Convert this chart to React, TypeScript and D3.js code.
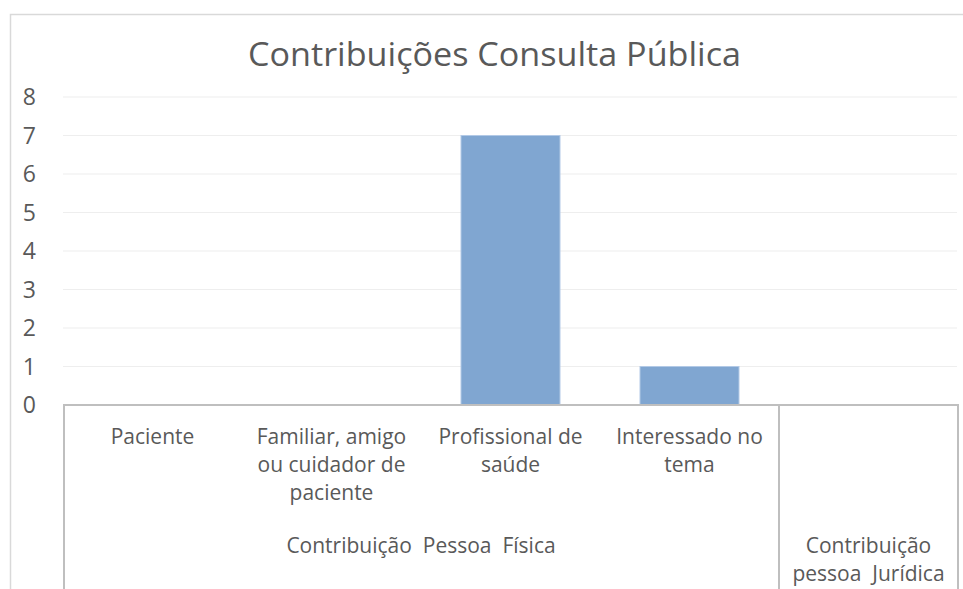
import React from "react";
import * as d3 from "d3";

const categories = [
  ["Paciente"],
  ["Familiar, amigo", "ou cuidador de", "paciente"],
  ["Profissional de", "saúde"],
  ["Interessado no", "tema"],
  [],
];
const categoryKeys = ["Paciente", "Familiar", "Profissional", "Interessado", "Juridica"];
const values = [0, 0, 7, 1, 0];
const groups = [
  { label: ["Contribuição  Pessoa  Física"], from: 0, to: 3 },
  { label: ["Contribuição", "pessoa  Jurídica"], from: 4, to: 4 },
];
const yTicks = [0, 1, 2, 3, 4, 5, 6, 7, 8];
const title = "Contribuições Consulta Pública";

const W = 963;
const H = 589;
const FONT = "'Open Sans', 'Noto Sans', sans-serif";
const TEXT = "#595959";

export default function App() {
  const x = d3.scaleBand<string>().domain(categoryKeys).range([63, 958]).padding(0);
  const y = d3.scaleLinear().domain([0, 8]).range([405, 97]);
  const bw = x.bandwidth() * 0.553;

  const grpX = (g: { from: number; to: number }) => {
    const a = x(categoryKeys[g.from])!;
    const b = x(categoryKeys[g.to])! + x.bandwidth();
    return [a, b];
  };

  return (
    <svg
      width={W}
      height={H}
      style={{ position: "absolute", left: 0, top: 0, background: "#fff" }}
      fontFamily={FONT}
    >
      {/* outer chart border */}
      <path d={`M10.5,${H} V14.5 H${W}`} fill="none" stroke="#d9d9d9" strokeWidth={1.5} />

      <text
        x={494.5}
        y={66}
        textAnchor="middle"
        fontSize={32}
        fill={TEXT}
        textLength={493}
        lengthAdjust="spacingAndGlyphs"
      >
        {title}
      </text>

      {/* gridlines */}
      {yTicks.filter((t) => t > 0).map((t) => (
        <line key={t} x1={63} x2={957} y1={y(t)} y2={y(t)} stroke="#eeeeee" strokeWidth={1.2} />
      ))}

      {/* y tick labels */}
      {yTicks.map((t) => (
        <text key={t} x={36} y={y(t) + 8} textAnchor="end" fontSize={23} fill={TEXT}>
          {t}
        </text>
      ))}

      {/* bars */}
      {values.map((v, i) =>
        v > 0 ? (
          <rect
            key={i}
            x={x(categoryKeys[i])! + (x.bandwidth() - bw) / 2}
            y={y(v)}
            width={bw}
            height={y(0) - y(v)}
            fill="#80a6d1"
            stroke="#b2c9e6"
            strokeWidth={1}
          />
        ) : null
      )}

      {/* category axis box */}
      <line x1={63} x2={959} y1={405} y2={405} stroke="#bfbfbf" strokeWidth={2} />
      <line x1={64} x2={64} y1={405} y2={H} stroke="#bfbfbf" strokeWidth={2} />
      {groups.map((g, gi) => {
        const [, b] = grpX(g);
        return <line key={gi} x1={b} x2={b} y1={405} y2={H} stroke="#bfbfbf" strokeWidth={2} />;
      })}

      {/* category labels */}
      {categories.map((lines, i) => (
        <text key={i} textAnchor="middle" fontSize={21} fill={TEXT}>
          {lines.map((l, j) => (
            <tspan key={j} x={x(categoryKeys[i])! + x.bandwidth() / 2} y={444 + j * 28} style={{ whiteSpace: "pre" }}>
              {l}
            </tspan>
          ))}
        </text>
      ))}

      {/* group labels */}
      {groups.map((g, gi) => {
        const [a, b] = grpX(g);
        return (
          <text key={gi} textAnchor="middle" fontSize={21} fill={TEXT}>
            {g.label.map((l, j) => (
              <tspan key={j} x={(a + b) / 2} y={553 + j * 28} style={{ whiteSpace: "pre" }}>
                {l}
              </tspan>
            ))}
          </text>
        );
      })}
    </svg>
  );
}
